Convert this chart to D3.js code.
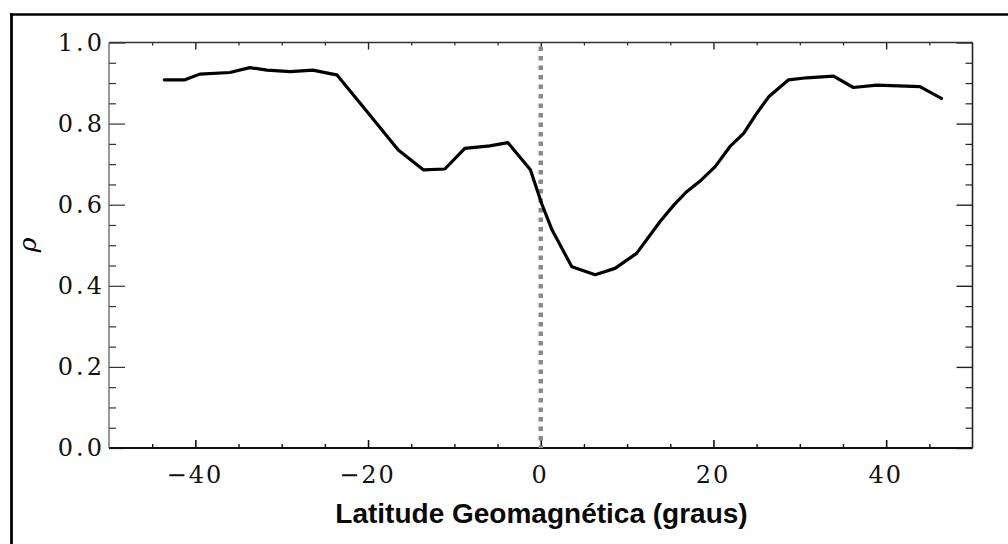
<!DOCTYPE html>
<html>
<head>
<meta charset="utf-8">
<script src="https://cdn.jsdelivr.net/npm/d3@7"></script>
<style>
  html, body { margin: 0; padding: 0; background: #fff; }
  svg { display: block; }
</style>
</head>
<body>
<svg id="chart" width="1008" height="544"></svg>
<script>
// ---- data ----
const latitude = [-43.6, -41.2, -39.5, -36.0, -33.7, -31.7, -29.0, -26.4, -24.1, -23.6,
                  -20.6, -16.5, -13.6, -11.1, -8.8, -5.9, -3.8, -1.2, 0.1, 1.3,
                  3.6, 6.3, 8.6, 11.1, 13.8, 15.4, 16.9, 18.6, 20.2, 21.9,
                  23.5, 25.0, 26.4, 28.7, 30.8, 33.9, 36.2, 38.9, 43.9, 46.4];
const rho      = [0.908, 0.908, 0.922, 0.926, 0.938, 0.932, 0.928, 0.932, 0.922, 0.920,
                  0.842, 0.735, 0.686, 0.688, 0.739, 0.745, 0.753, 0.686, 0.603, 0.538,
                  0.447, 0.427, 0.443, 0.480, 0.558, 0.599, 0.632, 0.661, 0.694, 0.743,
                  0.776, 0.825, 0.866, 0.908, 0.913, 0.917, 0.889, 0.895, 0.891, 0.862];
const xMajorTicks = [-40, -20, 0, 20, 40];
const xMinorTicks = [-45, -35, -30, -25, -15, -10, -5, 5, 10, 15, 25, 30, 35, 45];
const yMajorTicks = [0.0, 0.2, 0.4, 0.6, 0.8, 1.0];
const yMinorTicks = [0.05, 0.1, 0.15, 0.25, 0.3, 0.35, 0.45, 0.5, 0.55, 0.65, 0.7, 0.75, 0.85, 0.9, 0.95];
const xDomain = [-50, 50];
const yDomain = [0, 1];
const xTitle = "Latitude Geomagnética (graus)";
const yTitle = "ρ";
const equatorLat = 0;

// ---- layout ----
const svg = d3.select("#chart");
const pLeft = 109, pRight = 972.5, pTop = 42.5, pBottom = 448;

const x = d3.scaleLinear().domain(xDomain).range([pLeft, pRight]);
const y = d3.scaleLinear().domain(yDomain).range([pBottom, pTop]);

// outer frame (top and left edges visible)
svg.append("line").attr("x1", 10).attr("x2", 1008).attr("y1", 14.5).attr("y2", 14.5)
  .attr("stroke", "#000").attr("stroke-width", 2.6);
svg.append("line").attr("x1", 11.5).attr("x2", 11.5).attr("y1", 13.2).attr("y2", 544)
  .attr("stroke", "#000").attr("stroke-width", 2.8);

const serif = "'DejaVu Serif', serif";

function styleAxis(g, w, col) {
  g.select(".domain").remove();
  g.selectAll(".tick line").attr("stroke", col).attr("stroke-width", w);
}

// bottom axis
const gb = svg.append("g").attr("transform", `translate(0,${pBottom})`)
  .call(d3.axisBottom(x).tickValues(xMajorTicks).tickSizeInner(-8).tickSizeOuter(0)
        .tickFormat(d3.format("d")));
styleAxis(gb, 1.6, "#111");
gb.selectAll(".tick text").attr("y", 35).attr("dy", 0).attr("dx", -1)
  .attr("fill", "#111").style("font-family", serif).style("font-size", "24px")
  .style("letter-spacing", "2px");
const gbm = svg.append("g").attr("transform", `translate(0,${pBottom})`)
  .call(d3.axisBottom(x).tickValues(xMinorTicks).tickSizeInner(-4).tickSizeOuter(0).tickFormat(""));
styleAxis(gbm, 1.4, "#111");

// top axis
const gt = svg.append("g").attr("transform", `translate(0,${pTop})`)
  .call(d3.axisTop(x).tickValues(xMajorTicks).tickSizeInner(-7).tickSizeOuter(0).tickFormat(""));
styleAxis(gt, 1.4, "#222");
const gtm = svg.append("g").attr("transform", `translate(0,${pTop})`)
  .call(d3.axisTop(x).tickValues(xMinorTicks).tickSizeInner(-3).tickSizeOuter(0).tickFormat(""));
styleAxis(gtm, 1.2, "#222");

// left axis
const gl = svg.append("g").attr("transform", `translate(${pLeft},0)`)
  .call(d3.axisLeft(y).tickValues(yMajorTicks).tickSizeInner(-16).tickSizeOuter(0)
        .tickPadding(4).tickFormat(d3.format(".1f")));
styleAxis(gl, 1.2, "#333");
gl.selectAll(".tick text").attr("dy", "0.33em").attr("fill", "#111")
  .style("font-family", serif).style("font-size", "24px").style("letter-spacing", "3px");
const glm = svg.append("g").attr("transform", `translate(${pLeft},0)`)
  .call(d3.axisLeft(y).tickValues(yMinorTicks).tickSizeInner(-7).tickSizeOuter(0).tickFormat(""));
styleAxis(glm, 1.2, "#333");

// right axis
const gr = svg.append("g").attr("transform", `translate(${pRight},0)`)
  .call(d3.axisRight(y).tickValues(yMajorTicks).tickSizeInner(-16).tickSizeOuter(0).tickFormat(""));
styleAxis(gr, 1.4, "#222");
const grm = svg.append("g").attr("transform", `translate(${pRight},0)`)
  .call(d3.axisRight(y).tickValues(yMinorTicks).tickSizeInner(-7).tickSizeOuter(0).tickFormat(""));
styleAxis(grm, 1.2, "#222");

// frame lines of the plot box
svg.append("line").attr("x1", pLeft).attr("x2", pRight).attr("y1", pTop).attr("y2", pTop)
  .attr("stroke", "#333").attr("stroke-width", 1.3);
svg.append("line").attr("x1", pLeft).attr("x2", pRight).attr("y1", pBottom).attr("y2", pBottom)
  .attr("stroke", "#111").attr("stroke-width", 2);
svg.append("line").attr("x1", pLeft).attr("x2", pLeft).attr("y1", pTop).attr("y2", pBottom)
  .attr("stroke", "#555").attr("stroke-width", 1.2);
svg.append("line").attr("x1", pRight).attr("x2", pRight).attr("y1", pTop).attr("y2", pBottom)
  .attr("stroke", "#222").attr("stroke-width", 1.6);

// dotted equator line
svg.append("line")
  .attr("x1", x(equatorLat)).attr("x2", x(equatorLat))
  .attr("y1", y(1) + 4).attr("y2", y(0))
  .attr("stroke", "#8a8a8a").attr("stroke-width", 4.5)
  .attr("stroke-dasharray", "4.6 4.9");

// data line
const pts = latitude.map((d, i) => [d, rho[i]]);
svg.append("path")
  .datum(pts)
  .attr("fill", "none")
  .attr("stroke", "#000")
  .attr("stroke-width", 3.2)
  .attr("stroke-linejoin", "round")
  .attr("stroke-linecap", "round")
  .attr("d", d3.line().x(d => x(d[0])).y(d => y(d[1])));

// axis titles
svg.append("text")
  .attr("x", 541.5).attr("y", 523)
  .attr("text-anchor", "middle")
  .style("font-family", "'Liberation Sans', Arial, sans-serif")
  .style("font-weight", "bold").style("font-size", "28px")
  .attr("fill", "#0a0a0a")
  .text(xTitle);

svg.append("text")
  .attr("transform", "translate(36,245) rotate(-90)")
  .attr("text-anchor", "middle")
  .style("font-family", serif).style("font-style", "italic").style("font-size", "25px")
  .attr("fill", "#000")
  .text(yTitle);
</script>
</body>
</html>
